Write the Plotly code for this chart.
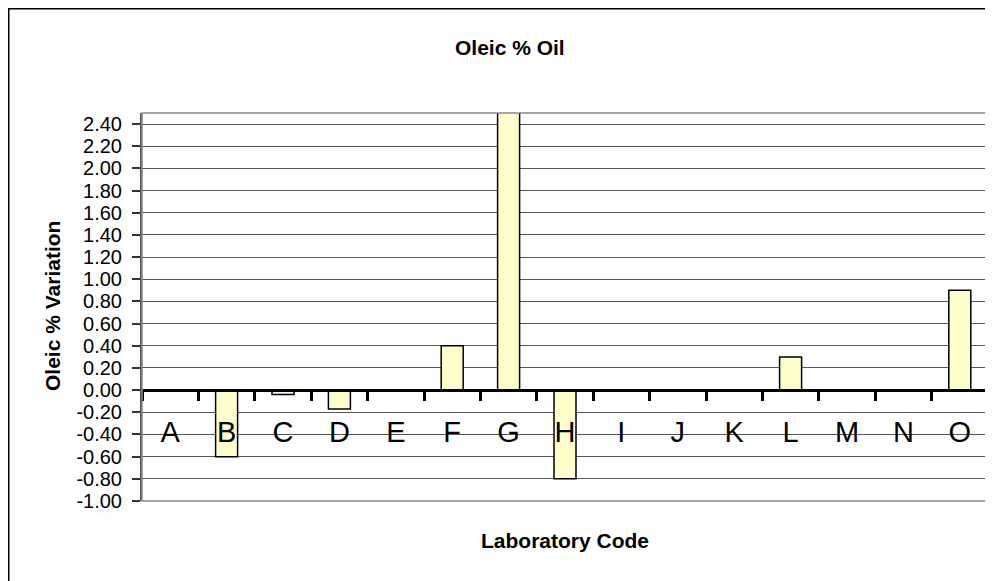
import plotly.graph_objects as go

categories = ["A", "B", "C", "D", "E", "F", "G", "H", "I", "J", "K", "L", "M", "N", "O"]
values = [0.0, -0.60, -0.04, -0.17, 0.0, 0.40, 2.80, -0.80, 0.0, 0.0, 0.0, 0.30, 0.0, 0.0, 0.90]
label_y = [-0.40] * len(categories)
y_ticks = [round(-1.0 + 0.2 * i, 2) for i in range(18)]

title_text = "Oleic % Oil"
x_title = "Laboratory Code"
y_title = "Oleic % Variation"

FONT = "Liberation Sans, Arial, sans-serif"
W, H = 993, 581
L, R, T, B = 134, 13, 105, 88
PW, PH = W - L - R, H - T - B
ymin, ymax = -1.0, 2.5


def px(x):
    return (x - L) / PW


def py(y):
    return (H - B - y) / PH


fig = go.Figure()
fig.add_trace(go.Bar(
    x=categories, y=values, width=0.39,
    marker=dict(color="#FFFFCC", line=dict(color="black", width=1.5)),
    hoverinfo="x+y", showlegend=False,
))
fig.add_trace(go.Scatter(
    x=categories, y=label_y, mode="text", text=categories,
    textfont=dict(family=FONT, size=29, color="black"),
    textposition="middle center", hoverinfo="skip", showlegend=False,
))

zero_pos = (0 - ymin) / (ymax - ymin)

fig.update_layout(
    width=W, height=H,
    margin=dict(l=L, r=R, t=T, b=B, pad=0),
    paper_bgcolor="white", plot_bgcolor="white",
    font=dict(family=FONT, color="black"),
    xaxis=dict(
        type="category", categoryorder="array", categoryarray=categories,
        anchor="free", position=zero_pos,
        showline=True, linecolor="black", linewidth=3,
        ticks="outside", ticklen=9, tickwidth=3, tickcolor="black",
        tickson="boundaries", showticklabels=False, showgrid=False,
        zeroline=False, range=[-0.5, len(categories) - 0.5], fixedrange=True,
    ),
    yaxis=dict(
        range=[ymin, ymax], tickvals=y_ticks,
        ticktext=[f"{v:.2f}" for v in y_ticks],
        tickfont=dict(family=FONT, size=20, color="black"),
        ticks="outside", ticklen=8, tickwidth=1.5, tickcolor="#333",
        ticklabelstandoff=6,
        showline=True, linecolor="#555", linewidth=2,
        showgrid=True, gridcolor="#555", gridwidth=1,
        zeroline=False, fixedrange=True,
    ),
    shapes=[
        dict(type="rect", xref="paper", yref="paper", x0=0, x1=1, y0=0, y1=1,
             line=dict(color="#888", width=1.5), fillcolor="rgba(0,0,0,0)", layer="above"),
        dict(type="rect", xref="paper", yref="paper",
             x0=px(0.5), x1=px(W + 20), y0=py(H + 20), y1=py(0.5),
             line=dict(color="black", width=2), fillcolor="rgba(0,0,0,0)", layer="below"),
    ],
    annotations=[
        dict(text=f"<b>{title_text}</b>", xref="paper", yref="paper",
             x=px(502), y=py(40),
             showarrow=False, font=dict(family=FONT, size=21, color="black"),
             xanchor="center", yanchor="middle"),
        dict(text=f"<b>{x_title}</b>", xref="paper", yref="paper",
             x=px(557), y=py(532),
             showarrow=False, font=dict(family=FONT, size=21, color="black"),
             xanchor="center", yanchor="middle"),
        dict(text=f"<b>{y_title}</b>", xref="paper", yref="paper",
             x=px(44), y=py(298),
             showarrow=False, textangle=-90, font=dict(family=FONT, size=21, color="black"),
             xanchor="center", yanchor="middle"),
    ],
)

fig.write_html("out.html")
